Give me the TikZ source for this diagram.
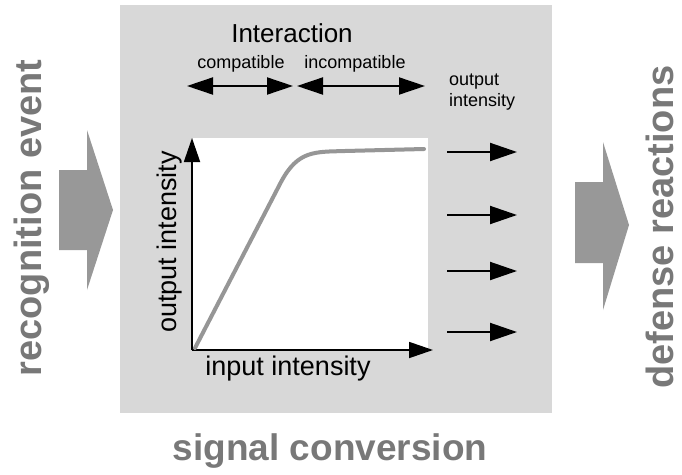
\documentclass[tikz,border=0pt]{standalone}
\usepackage{fontspec}
\setmainfont{Liberation Sans}
\usetikzlibrary{arrows.meta}
\definecolor{boxgray}{RGB}{216,216,216}
\definecolor{labelgray}{RGB}{120,120,120}
\definecolor{arrowgray}{RGB}{152,152,152}
\definecolor{curvegray}{RGB}{150,150,150}

\begin{document}
\begin{tikzpicture}[x=1pt,y=-1pt,
  biglabel/.style={text=labelgray,font=\fontsize{38}{40}\selectfont\bfseries,inner sep=0pt},
  axislabel/.style={font=\fontsize{27}{29}\selectfont,inner sep=0pt},
  smalllabel/.style={font=\fontsize{18}{21}\selectfont,inner sep=0pt},
  bigarrow/.style={fill=arrowgray,draw=none},
  axis/.style={line width=1.8pt,-{Triangle[length=24pt,width=16pt]}},
  spanarrow/.style={line width=2pt,{Triangle[length=26pt,width=17pt]}-{Triangle[length=26pt,width=17pt]}},
  outarrow/.style={line width=2pt,-{Triangle[length=27pt,width=18pt]}}]
  \useasboundingbox (0,0) rectangle (682,474);
  \fill[boxgray] (120,5) rectangle (552,413);
  \fill[white] (193,138) rectangle (428,350);

  % input and output
  \fill[bigarrow] (59,170) -- (87,170) -- (87,130) -- (113,210) -- (87,290) -- (87,250) -- (59,250) -- cycle;
  \fill[bigarrow] (575,182) -- (603,182) -- (603,142) -- (629,225) -- (603,310) -- (603,263) -- (575,263) -- cycle;
  \node[biglabel,rotate=90,anchor=base] (recog) at (41,218) {recognition event};
  \node[biglabel,rotate=90,anchor=base] (defense) at (673,227) {defense reactions};
  \node[biglabel,font=\fontsize{37}{40}\selectfont\bfseries,anchor=base] (conv) at (330,460) {signal conversion};

  % interaction
  \node[font=\fontsize{26}{28}\selectfont,inner sep=0pt,anchor=base] (inter) at (292,42) {Interaction};
  \node[smalllabel,anchor=base] (compat) at (241,68) {compatible};
  \node[smalllabel,anchor=base] (incompat) at (355,68) {incompatible};
  \coordinate (c1) at (187,86);
  \coordinate (c2) at (293,86);
  \coordinate (i1) at (297,86);
  \coordinate (i2) at (425,86);
  \draw[spanarrow] (c1) -- (c2);
  \draw[spanarrow] (i1) -- (i2);

  % plot
  \coordinate (o) at (192,350);
  \coordinate (ytop) at (192,138);
  \coordinate (xend) at (433,350);
  \draw[axis] (o) -- (ytop);
  \draw[axis] (o) -- (xend);
  \draw[curvegray,line width=4pt,line cap=round] (195,348) -- (281,182) .. controls (298,150) and (315,152) .. (345,151) -- (424,149);
  \node[axislabel,anchor=base] (inlab) at (288,375) {input intensity};
  \node[axislabel,rotate=90,anchor=base] (outlab) at (176,242) {output intensity};

  % output levels
  \node[smalllabel,align=left,anchor=base west] (outtitle) at (449,106) {output\\intensity};
  \foreach \y [count=\i] in {152,215,271,332} {
    \coordinate (os\i) at (447,\y);
    \coordinate (oe\i) at (517,\y);
    \draw[outarrow] (os\i) -- (oe\i);
  }
\end{tikzpicture}
\end{document}
